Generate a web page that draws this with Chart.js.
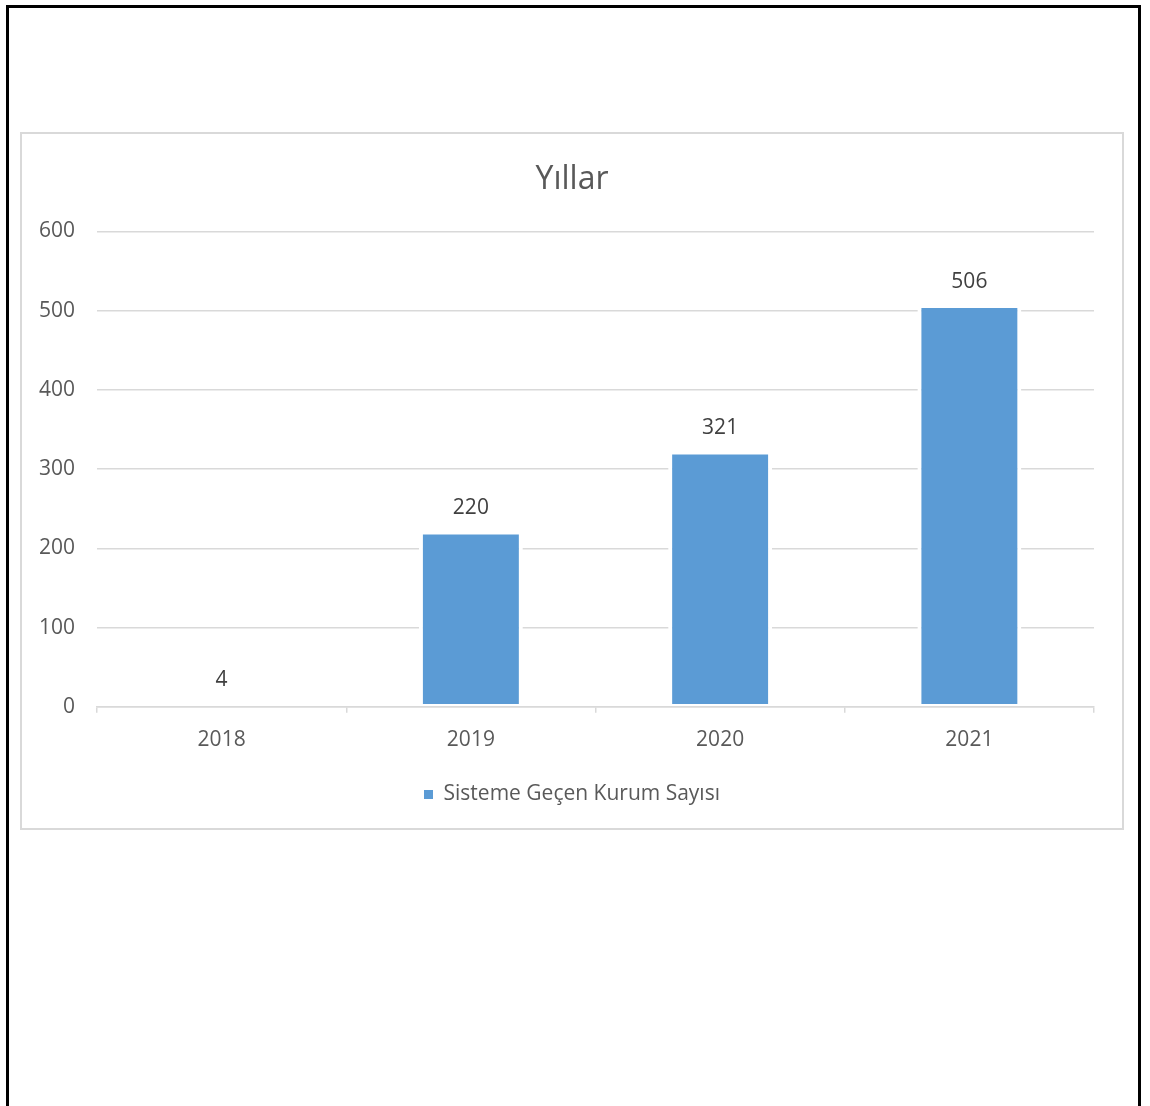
<!DOCTYPE html>
<html>
<head>
<meta charset="utf-8">
<script src="https://cdn.jsdelivr.net/npm/chart.js@4"></script>
<style>
  body { margin: 0; background: #fff; overflow: hidden; }
  #frame { position: absolute; left: 6px; top: 5px; width: 1129px; height: 1200px; border: 3px solid #000; }
  #box { position: absolute; left: 20px; top: 132px; width: 1100px; height: 694px; border: 2px solid #d9d9d9; }
</style>
</head>
<body>
<div id="frame"></div>
<div id="box"><canvas id="barChart" width="1100" height="694"></canvas></div>
<script>
const years = ['2018', '2019', '2020', '2021']
const kurumSayisi = [4, 220, 321, 506]
const seriesName = 'Sisteme Geçen Kurum Sayısı'
const chartTitle = 'Yıllar'

const textColor = '#595959'
const lineColor = '#d9d9d9'
const fontFamily = '"Open Sans", "Noto Sans", sans-serif'

// value labels above each bar
const barValueLabels = {
  id: 'barValueLabels',
  afterDatasetsDraw(chart) {
    const ctx = chart.ctx
    const meta = chart.getDatasetMeta(0)
    ctx.save()
    ctx.font = '21px ' + fontFamily
    ctx.fillStyle = '#404040'
    ctx.textAlign = 'center'
    ctx.textBaseline = 'middle'
    meta.data.forEach((bar, i) => {
      ctx.fillText(String(chart.data.datasets[0].data[i]), bar.x, bar.y - 24)
    })
    ctx.restore()
  }
}

const ctx = document.getElementById('barChart').getContext('2d')
new Chart(ctx, {
  type: 'bar',
  data: {
    labels: years,
    datasets: [{
      label: seriesName,
      data: kurumSayisi,
      backgroundColor: '#5b9bd5',
      borderColor: '#ffffff',
      borderWidth: {top: 2, bottom: 2, left: 4, right: 4},
      borderSkipped: false,
      categoryPercentage: 1,
      barPercentage: 0.417
    }]
  },
  options: {
    responsive: false,
    animation: false,
    layout: {padding: {left: 0, right: 0, top: 0, bottom: 13}},
    plugins: {
      title: {
        display: true,
        text: chartTitle,
        color: textColor,
        font: {family: fontFamily, size: 32, weight: 'normal'},
        padding: {top: 27, bottom: 32}
      },
      legend: {
        position: 'bottom',
        labels: {
          color: textColor,
          font: {family: fontFamily, size: 21},
          boxWidth: 9,
          boxHeight: 9,
          padding: 16,
          generateLabels: chart => Chart.defaults.plugins.legend.labels.generateLabels(chart).map(item => {
            item.lineWidth = 0
            item.strokeStyle = 'rgba(0,0,0,0)'
            return item
          })
        }
      },
      tooltip: {enabled: false}
    },
    scales: {
      x: {
        z: 1,
        grid: {drawOnChartArea: false, drawTicks: true, tickLength: 6, color: lineColor, lineWidth: 1.5},
        border: {display: true, color: lineColor, width: 1.5},
        ticks: {color: textColor, font: {family: fontFamily, size: 21}, padding: 15}
      },
      y: {
        min: 0,
        max: 600,
        afterFit: scale => { scale.width = 75 },
        grid: {color: lineColor, lineWidth: 1.5, drawTicks: false},
        border: {display: false},
        ticks: {stepSize: 100, color: textColor, font: {family: fontFamily, size: 21}, padding: 22}
      },
      // empty right-hand gutter so the plot ends short of the box edge
      gutter: {
        type: 'linear',
        position: 'right',
        grid: {display: false},
        border: {display: false},
        ticks: {display: false},
        afterFit: scale => { scale.width = 28 }
      }
    }
  },
  plugins: [barValueLabels]
});
</script>
</body>
</html>
